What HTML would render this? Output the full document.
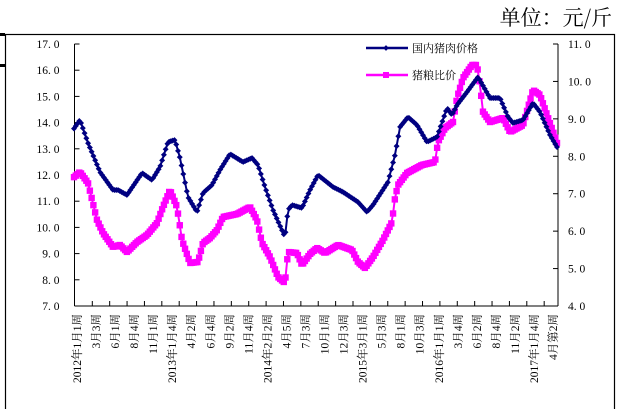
<!DOCTYPE html>
<html><head><meta charset="utf-8"><style>
body{margin:0;background:#fff;width:628px;height:409px;overflow:hidden}
svg text{font-family:"Liberation Serif","Noto Serif CJK SC",serif}
</style></head><body>
<svg id="s" width="628" height="409" xmlns="http://www.w3.org/2000/svg">
<text x="612" y="25" font-size="21" text-anchor="end" fill="#000" style="font-family:'Noto Serif CJK SC',serif">单位：元/斤</text>
<rect x="5.5" y="34.5" width="609" height="380" fill="none" stroke="#000" stroke-width="1.2"/>
<rect x="0" y="33" width="5" height="3" fill="#000"/>
<rect x="0" y="64" width="5" height="3" fill="#000"/>
<g id="ax" stroke="#000" stroke-width="1" fill="none"></g>
<g id="lab" font-size="11.5" fill="#000"></g>
<g id="ser"></g>
<g font-size="11" fill="#000">
<line x1="366" y1="48" x2="408" y2="48" stroke="#000080" stroke-width="2.5"/>
<rect x="384" y="46" width="4" height="4" fill="#000080" transform="rotate(45 386 48)"/>
<text x="412" y="52" style="font-family:'Noto Serif CJK SC',serif">国内猪肉价格</text>
<line x1="366" y1="75" x2="408" y2="75" stroke="#ff00ff" stroke-width="2.5"/>
<rect x="383" y="72" width="6" height="6" fill="#ff00ff"/>
<text x="412" y="79" style="font-family:'Noto Serif CJK SC',serif">猪粮比价</text>
</g>
</svg>
<script>
var NS="http://www.w3.org/2000/svg";
function el(p,t,a,txt){var e=document.createElementNS(NS,t);for(var k in a)e.setAttribute(k,a[k]);if(txt!=null)e.textContent=txt;p.appendChild(e);return e;}
var ax=document.getElementById('ax'),lab=document.getElementById('lab'),ser=document.getElementById('ser');
var L=74.5,R=558,T=44,B=306;
el(ax,'line',{x1:L,y1:T,x2:L,y2:B});
el(ax,'line',{x1:R,y1:T,x2:R,y2:B});
el(ax,'line',{x1:L,y1:B,x2:R,y2:B});
for(var v=7;v<=17;v++){var y=B-(v-7)*26.2;el(ax,'line',{x1:L,y1:y,x2:L+5,y2:y});el(lab,'text',{x:L-15,y:y+4,'text-anchor':'end'},v.toFixed(0)+". 0");}
for(var v=4;v<=11;v++){var y=B-(v-4)*(262/7);el(ax,'line',{x1:R-5,y1:y,x2:R,y2:y});el(lab,'text',{x:R+10,y:y+4},v.toFixed(0)+". 0");}
for(var i=0;i<27;i++){var x=92.3+i*17.38;el(ax,'line',{x1:x,y1:B,x2:x,y2:B-5});}
var labs=["2012年1月1周","3月3周","6月1周","8月4周","11月1周","2013年1月4周","4月2周","6月4周","9月2周","11月4周","2014年2月2周","4月5周","7月3周","10月1周","12月3周","2015年3月1周","5月3周","8月1周","10月3周","2016年1月1周","3月4周","6月2周","8月4周","11月2周","2017年1月4周","4月第2周"];
var n=labs.length;
for(var i=0;i<n;i++){var x=77+i*(476/(n-1));el(lab,'text',{transform:'translate('+(x+4)+',314) rotate(-90)','text-anchor':'end','font-size':'11.5'},labs[i]);}
var blue=[[73,130],[80,120],[88,143],[100,172],[113,190],[118,190],[127,195],[142,173],[152,180],[160,167],[168,142],[175,140],[180,158],[188,197],[197,212],[203,193],[212,185],[220,170],[230,154],[243,162],[252,158],[258,165],[265,187],[273,210],[285,237],[288,210],[292,205],[302,208],[310,190],[318,175],[333,187],[343,192],[358,202],[367,212],[373,205],[388,182],[395,155],[400,127],[408,117],[417,125],[427,142],[437,137],[447,108],[452,115],[457,105],[467,92],[478,77],[490,98],[500,98],[508,117],[513,123],[523,120],[533,103],[540,112],[550,135],[557,147]];
var mag=[[73,178],[80,172],[88,183],[97,220],[103,233],[113,247],[120,245],[127,252],[137,242],[147,235],[157,223],[163,207],[170,190],[177,207],[182,240],[190,263],[198,262],[203,243],[210,238],[217,230],[223,217],[237,214],[250,207],[257,220],[262,243],[270,257],[278,277],[285,283],[288,252],[297,253],[302,265],[310,254],[317,248],[325,253],[338,245],[352,250],[358,262],[365,268],[373,257],[383,240],[392,222],[395,198],[398,185],[407,173],[422,165],[435,162],[438,142],[445,128],[453,122],[457,98],[463,78],[472,65],[477,65],[480,85],[483,112],[490,122],[503,118],[510,132],[523,125],[533,90],[540,95],[547,115],[555,137],[557,143]];
function interp(a,x){for(var i=1;i<a.length;i++){if(x<=a[i][0]){var t=(x-a[i-1][0])/(a[i][0]-a[i-1][0]);return a[i-1][1]+t*(a[i][1]-a[i-1][1]);}}return a[a.length-1][1];}
function draw(a,col,mk){var pts=[],N=275;for(var i=0;i<N;i++){var x=74+i*(483/(N-1));pts.push([x,interp(a,x)]);}
el(ser,'polyline',{points:pts.map(function(p){return p[0].toFixed(1)+','+p[1].toFixed(1)}).join(' '),fill:'none',stroke:col,'stroke-width':2});
pts.forEach(function(p){if(mk=='d')el(ser,'rect',{x:p[0]-2.1,y:p[1]-2.1,width:4.2,height:4.2,fill:col,transform:'rotate(45 '+p[0]+' '+p[1]+')'});else el(ser,'rect',{x:p[0]-3.2,y:p[1]-3.2,width:6.4,height:6.4,fill:col});});}
draw(mag,'#ff00ff','s');
draw(blue,'#000080','d');
</script>
</body></html>
